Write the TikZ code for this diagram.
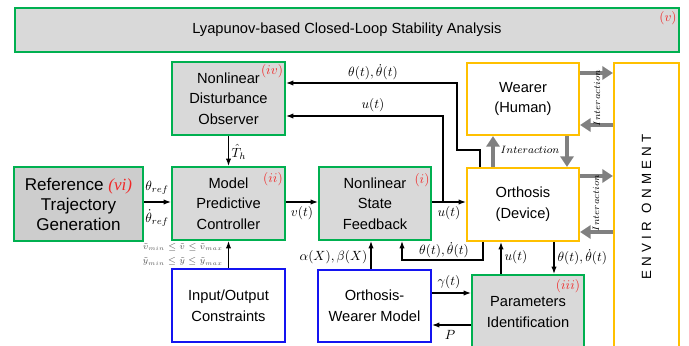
\RequirePackage{fix-cm}
\documentclass[tikz,border=0pt]{standalone}
\usepackage[no-math]{fontspec}
\setmainfont{Liberation Sans}
\newfontfamily\serifit{Liberation Serif}
\usetikzlibrary{arrows.meta}
\definecolor{bgreen}{RGB}{0,176,80}
\definecolor{bfill}{RGB}{217,217,217}
\definecolor{rfill}{RGB}{205,205,205}
\definecolor{bblue}{RGB}{20,20,240}
\definecolor{byellow}{RGB}{255,192,0}
\definecolor{lred}{RGB}{240,40,40}
\definecolor{agray}{RGB}{128,128,128}
\definecolor{cgray}{RGB}{90,90,90}
\newcommand\envsp{\hspace{3.2pt}}
\begin{document}
\begin{tikzpicture}[x=0.75pt,y=-0.75pt,
 box/.style={draw, line width=1.6pt, align=center, inner sep=0pt, font=\fontsize{11}{15.5}\selectfont},
 sz/.style 2 args={minimum width=#1*0.75pt, minimum height=#2*0.75pt},
 gbox/.style={box, draw=bgreen, fill=bfill},
 bbox/.style={box, draw=bblue, fill=white},
 ybox/.style={box, draw=byellow, fill=white},
 conn/.style={line width=0.9pt, -{Latex[length=5.5pt,width=4pt]}},
 garrow/.style={draw=agray, line width=3.6pt, -{Triangle[width=10pt,length=8pt]}},
 lab/.style={font=\fontsize{10}{12}\selectfont, inner sep=1pt},
 clab/.style={font=\fontsize{6.5}{8}\selectfont, text=cgray, inner sep=0pt},
 rlab/.style={text=lred, font=\fontsize{10}{12}\selectfont, inner sep=0pt},
 ilab/.style={font=\fontsize{7}{8}\selectfont, inner sep=0pt, rotate=90},
]
\useasboundingbox (0,0) rectangle (689,346);
\clip (0,0) rectangle (689,346);
% helper coordinates
\coordinate (y73) at (0,73);
\coordinate (y125) at (0,125);
\coordinate (y176) at (0,176);
\coordinate (y232) at (0,232);
\coordinate (y202) at (0,202);
\coordinate (y293) at (0,293);
\coordinate (y325) at (0,325);
\coordinate (x371) at (371,0);
\coordinate (x493) at (493,0);
\coordinate (x567) at (567,0);
\coordinate (x501) at (501,0);
\coordinate (x554) at (554,0);
\coordinate (c1) at (480,150);
\coordinate (c2) at (457,150);
\coordinate (c3) at (457,83);
\coordinate (c4) at (443,202);
\coordinate (c5) at (443,116);
\coordinate (c6) at (483,260);
\coordinate (c7) at (402,260);
% boxes
\node[gbox, sz={664}{44}] (stab) at (347,30) {Lyapunov-based Closed-Loop Stability Analysis};
\node[gbox, sz={113}{73}] (ndo) at (228.5,98.5) {Nonlinear\\Disturbance\\Observer};
\node[gbox, sz={113}{73}] (mpc) at (228.5,203.5) {Model\\Predictive\\Controller};
\node[gbox, fill=rfill, sz={129}{74}, font=\fontsize{12.8}{15}\selectfont] (ref) at (78.5,204) {Reference {\serifit\itshape\color{lred}(vi)}\\Trajectory\\Generation};
\node[bbox, sz={113}{73}] (io) at (228.5,305.5) {Input/Output\\Constraints};
\node[gbox, sz={112}{73}] (nsf) at (375,203.5) {Nonlinear\\State\\Feedback};
\node[bbox, sz={113}{72}] (owm) at (374.5,306) {Orthosis-\\Wearer Model};
\node[gbox, sz={112}{74}] (pid) at (528,312) {Parameters\\Identification};
\node[ybox, sz={112}{73}] (orth) at (523,204.5) {Orthosis\\(Device)};
\node[ybox, sz={112}{72}] (wear) at (523,99) {Wearer\\(Human)};
\node[ybox, sz={65}{290}] (env) at (646.5,208) {};
\node[rotate=90, font=\fontsize{10}{12}\selectfont, inner sep=0pt] (envt) at (646.5,207) {E\envsp N\envsp V\envsp I\envsp R\envsp\envsp O\envsp N\envsp M\envsp E\envsp N\envsp T};
% red labels
\node[rlab] (l4) at (272,71) {$(iv)$};
\node[rlab] (l2) at (273,179) {$(ii)$};
\node[rlab] (l1) at (422,180) {$(i)$};
\node[rlab] (l3) at (568,286) {$(iii)$};
\node[rlab] (l5) at (668,18) {$(v)$};
% connectors
\draw[conn] (orth.north -| c1) -- (c1) -- (c2) -- (c3) -- (c3 -| ndo.east);
\node[lab] (t1) at (373,72) {$\theta(t),\dot\theta(t)$};
\draw[conn] (c4) -- (c5) -- (c5 -| ndo.east);
\node[lab] (t2) at (373,105) {$u(t)$};
\draw[conn] (nsf.east |- y202) -- (orth.west |- y202);
\node[lab] (t3) at (449,213) {$u(t)$};
\draw[conn] (mpc.east |- y202) -- (nsf.west |- y202);
\node[lab] (t4) at (302,213) {$v(t)$};
\draw[conn] (ref.east |- y202) -- (mpc.west |- y202);
\node[lab] (t5) at (157,188) {$\theta_{ref}$};
\node[lab] (t6) at (157,218) {$\dot\theta_{ref}$};
\draw[conn] (ndo.south) -- (mpc.north);
\node[lab, anchor=west] (t7) at (230,152) {$\hat T_h$};
\draw[conn] (io.north) -- (mpc.south);
\node[clab, anchor=east] (t8) at (223,247) {$\tilde v_{min}\le\tilde v\le\tilde v_{max}$};
\node[clab, anchor=east] (t9) at (223,261.5) {$\tilde y_{min}\le\tilde y\le\tilde y_{max}$};
\draw[conn] (owm.north -| x371) -- (nsf.south -| x371);
\node[lab, anchor=east] (t10) at (369,257) {$\alpha(X),\beta(X)$};
\draw[conn] (orth.south -| c6) -- (c6) -- (c7) -- (nsf.south -| c7);
\node[lab] (t11) at (444,250) {$\theta(t),\dot\theta(t)$};
\draw[conn] (owm.east |- y293) -- (pid.west |- y293);
\node[lab] (t12) at (449,282) {$\gamma(t)$};
\draw[conn] (pid.west |- y325) -- (owm.east |- y325);
\node[lab] (t13) at (450,335) {$P$};
\draw[conn] (pid.north -| x501) -- (orth.south -| x501);
\node[lab, anchor=west] (t14) at (503,257) {$u(t)$};
\draw[conn] (orth.south -| x554) -- (pid.north -| x554);
\node[lab, anchor=west] (t15) at (556,257) {$\theta(t),\dot\theta(t)$};
% grey interaction arrows
\draw[garrow] (wear.east |- y73) -- (env.west |- y73);
\draw[garrow] (env.west |- y125) -- (wear.east |- y125);
\draw[garrow] (orth.east |- y176) -- (env.west |- y176);
\draw[garrow] (env.west |- y232) -- (orth.east |- y232);
\draw[garrow] (orth.north -| x493) -- (wear.south -| x493);
\draw[garrow] (wear.south -| x567) -- (orth.north -| x567);
\node[ilab] (i1) at (597,98) {$Interaction$};
\node[ilab] (i2) at (596,203) {$Interaction$};
\node[font=\fontsize{8}{9}\selectfont, inner sep=0pt] (i3) at (530,150) {$Interaction$};
\end{tikzpicture}
\end{document}
